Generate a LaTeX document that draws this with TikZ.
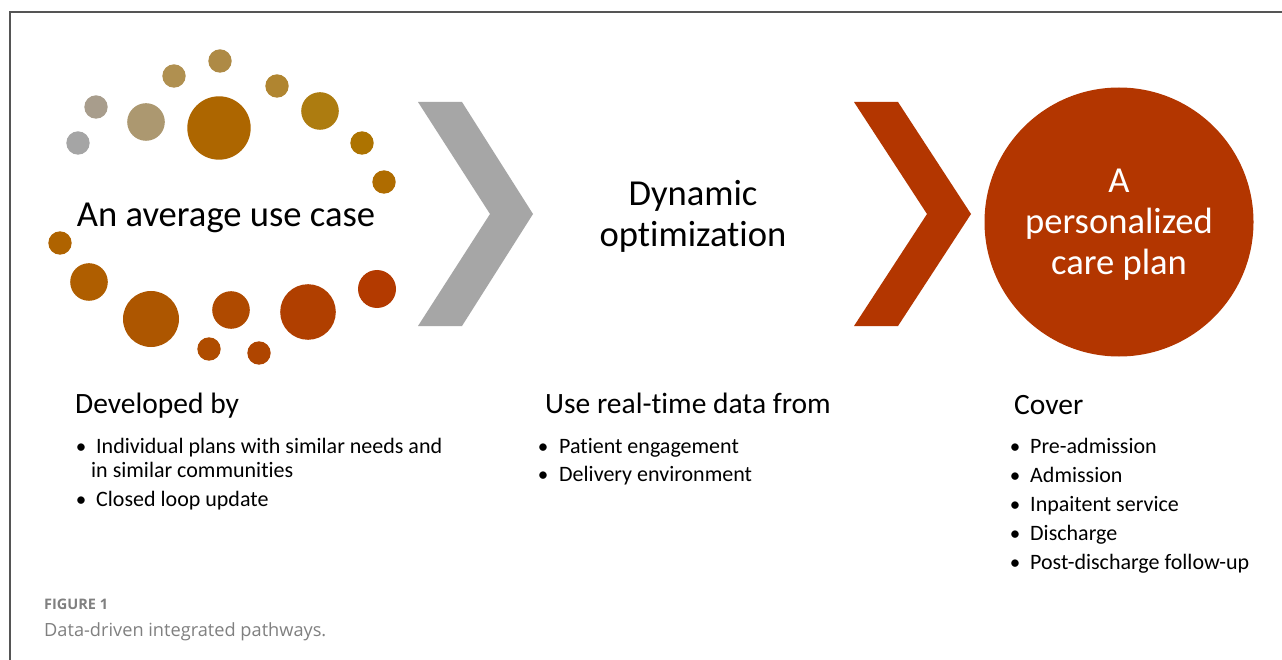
\documentclass[tikz,border=0pt]{standalone}
\usepackage{fontspec}
\setmainfont{Carlito}[Ligatures={NoCommon,NoContextual}]
\newfontfamily\capfont{Open Sans}
\definecolor{framegray}{HTML}{555555}
\definecolor{chevgray}{HTML}{A6A6A6}
\definecolor{rust}{HTML}{B33600}
\definecolor{capgray}{HTML}{808080}
\definecolor{c1}{HTML}{A5A5A5}
\definecolor{c2}{HTML}{A89D8C}
\definecolor{c3}{HTML}{AC9870}
\definecolor{c4}{HTML}{B09050}
\definecolor{c5}{HTML}{AE8A45}
\definecolor{c6}{HTML}{AD6600}
\definecolor{c7}{HTML}{B08530}
\definecolor{c8}{HTML}{AD7C10}
\definecolor{c9}{HTML}{AD7300}
\definecolor{c10}{HTML}{AF6C00}
\definecolor{c11}{HTML}{AF6300}
\definecolor{c12}{HTML}{AF5E00}
\definecolor{c13}{HTML}{AD5600}
\definecolor{c14}{HTML}{AF4C00}
\definecolor{c15}{HTML}{AF4A00}
\definecolor{c16}{HTML}{AF4500}
\definecolor{c17}{HTML}{B03F00}
\definecolor{c18}{HTML}{B33A00}
\begin{document}
\begin{tikzpicture}[x=1pt,y=-1pt,
  bigtext/.style={font=\fontsize{36.6}{41}\selectfont, align=center, inner sep=0pt},
  headtext/.style={font=\fontsize{29.5}{34}\selectfont, anchor=base west, inner sep=0pt},
  itemtext/.style={font=\fontsize{22}{26}\selectfont, anchor=base west, inner sep=0pt},
  bulletmark/.style={font=\fontsize{21}{26}\selectfont, anchor=base, inner sep=0pt}]
\useasboundingbox (0,0) rectangle (1282,660);
\fill[white] (0,0) rectangle (1282,660);
% frame
\draw[framegray, line width=1.2pt] (10,660) -- (10,12) -- (1282,12);

% circles of the average use case
\fill[c1] (78,143) circle[radius=11.7pt];
\fill[c2] (96,107) circle[radius=11.7pt];
\fill[c3] (146,122) circle[radius=18.8pt];
\fill[c4] (174,76) circle[radius=11.7pt];
\fill[c5] (220,61) circle[radius=11.7pt];
\fill[c6] (219,128) circle[radius=31.7pt];
\fill[c7] (277,86) circle[radius=11.7pt];
\fill[c8] (320,111) circle[radius=18.8pt];
\fill[c9] (362,143) circle[radius=11.7pt];
\fill[c10] (384,182) circle[radius=11.7pt];
\fill[c11] (60,243) circle[radius=11.7pt];
\fill[c12] (89,282) circle[radius=18.8pt];
\fill[c13] (151,319) circle[radius=28pt];
\fill[c14] (209,349) circle[radius=11.7pt];
\fill[c15] (231,310) circle[radius=18.8pt];
\fill[c16] (259,353) circle[radius=11.7pt];
\fill[c17] (308,312) circle[radius=27.8pt];
\fill[c18] (377,289) circle[radius=19pt];

\node[bigtext] (avg) at (226,218) {An average use case};

% chevrons
\fill[chevgray] (418,102) -- (462,102) -- (533,214) -- (462,326) -- (418,326) -- (490,214) -- cycle;
\fill[rust] (854,102) -- (898,102) -- (971,214) -- (898,326) -- (854,326) -- (927,214) -- cycle;

\node[bigtext] (dyn) at (693,216) {Dynamic\\optimization};

% result circle
\fill[rust] (1119,222) circle[radius=134.5pt];
\node[bigtext, text=white] (plan) at (1119,225) {A\\personalized\\care plan};

% left column
\node[headtext] (dev) at (75,413) {Developed by};
\node[bulletmark] (b1) at (81,453) {•};
\node[itemtext] (i1) at (96,453) {Individual plans with similar needs and};
\node[itemtext] (i1b) at (91,477) {in similar communities};
\node[bulletmark] (b2) at (81,506) {•};
\node[itemtext] (i2) at (96,506) {Closed loop update};

% middle column
\node[headtext] (use) at (545,413) {Use real-time data from};
\node[bulletmark] (b3) at (543,453) {•};
\node[itemtext] (i3) at (559,453) {Patient engagement};
\node[bulletmark] (b4) at (543,481) {•};
\node[itemtext] (i4) at (559,481) {Delivery environment};

% right column
\node[headtext] (cov) at (1014,414) {Cover};
\node[bulletmark] (b5) at (1015,453) {•};
\node[itemtext] (i5) at (1030,453) {Pre-admission};
\node[bulletmark] (b6) at (1015,482) {•};
\node[itemtext] (i6) at (1030,482) {Admission};
\node[bulletmark] (b7) at (1015,511) {•};
\node[itemtext] (i7) at (1030,511) {Inpaitent service};
\node[bulletmark] (b8) at (1015,540) {•};
\node[itemtext] (i8) at (1030,540) {Discharge};
\node[bulletmark] (b9) at (1015,569) {•};
\node[itemtext] (i9) at (1030,569) {Post-discharge follow-up};

% caption
\node[anchor=base west, inner sep=0pt, text=capgray, font=\capfont\bfseries\fontsize{14.5}{16}\selectfont] (fig) at (44,609) {FIGURE 1};
\node[anchor=base west, inner sep=0pt, text=capgray, font=\capfont\fontsize{18.2}{22}\selectfont] (cap) at (44,636) {Data-driven integrated pathways.};
\end{tikzpicture}
\end{document}
